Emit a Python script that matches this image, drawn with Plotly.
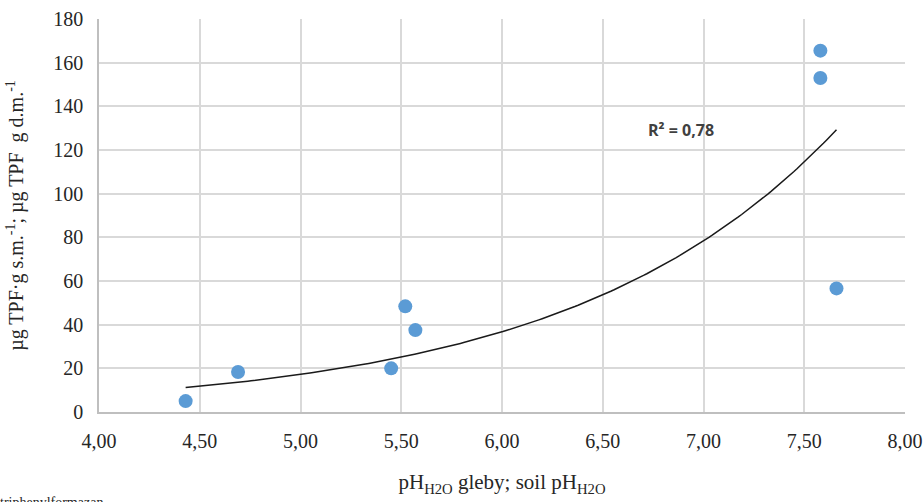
import numpy as np
import plotly.graph_objects as go

ph = [4.43, 4.69, 5.45, 5.52, 5.57, 7.58, 7.58, 7.66]
activity = [5.0, 18.3, 20.0, 48.4, 37.5, 165.5, 153.0, 56.6]
x_ticks = [4.0, 4.5, 5.0, 5.5, 6.0, 6.5, 7.0, 7.5, 8.0]
x_tick_labels = ["4,00", "4,50", "5,00", "5,50", "6,00", "6,50", "7,00", "7,50", "8,00"]
y_ticks = [0, 20, 40, 60, 80, 100, 120, 140, 160, 180]
r2_label = "R² = 0,78"

# exponential trendline (fit of ln y on x)
b, ln_a = np.polyfit(ph, np.log(activity), 1)
xt = np.linspace(min(ph), max(ph), 200)
yt = np.exp(ln_a) * np.exp(b * xt)

fig = go.Figure()
fig.add_trace(go.Scatter(x=xt, y=yt, mode="lines",
                         line=dict(color="#1a1a1a", width=1.5), hoverinfo="skip"))
fig.add_trace(go.Scatter(x=ph, y=activity, mode="markers",
                         marker=dict(color="#5B9BD5", size=14)))

serif = "Liberation Serif"
fig.update_layout(
    width=923, height=502,
    margin=dict(l=99, r=18, t=19, b=90),
    plot_bgcolor="white", paper_bgcolor="white",
    showlegend=False,
    font=dict(family=serif, size=20, color="#262626"),
    xaxis=dict(range=[4.0, 8.0], tickvals=x_ticks, ticktext=x_tick_labels,
               showgrid=True, gridcolor="#d9d9d9", gridwidth=1.5,
               showline=True, linecolor="#bfbfbf", linewidth=1.5,
               zeroline=False, ticks="", ticklabelstandoff=10, automargin=False,
               tickfont=dict(family=serif, size=20),
               title=dict(text="pH<sub>H2O</sub> gleby; soil pH<sub>H2O</sub>",
                          font=dict(family=serif, size=21), standoff=24)),
    yaxis=dict(range=[0, 180], tickvals=y_ticks,
               showgrid=True, gridcolor="#d9d9d9", gridwidth=1.5,
               showline=True, linecolor="#bfbfbf", linewidth=1.5,
               zeroline=False, ticks="", ticklabelstandoff=10, automargin=False,
               tickfont=dict(family=serif, size=20),
               title=dict(text="µg TPF·g s.m.<sup>-1</sup>; µg TPF  g d.m.<sup>-1</sup>",
                          font=dict(family=serif, size=20), standoff=24)),
    annotations=[
        dict(x=6.89, y=129, xref="x", yref="y", text="<b>" + r2_label + "</b>",
             showarrow=False, font=dict(family="Open Sans", size=16, color="#404040")),
        dict(x=0, y=-0.205, xref="paper", yref="paper", xanchor="left", yanchor="top",
             text="triphenylformazan", showarrow=False,
             xshift=-101, font=dict(family=serif, size=14, color="#262626")),
    ],
)
fig.write_html("out.html", config={"displayModeBar": False},
               post_script="document.body.style.margin='0';document.body.style.overflow='hidden';")
